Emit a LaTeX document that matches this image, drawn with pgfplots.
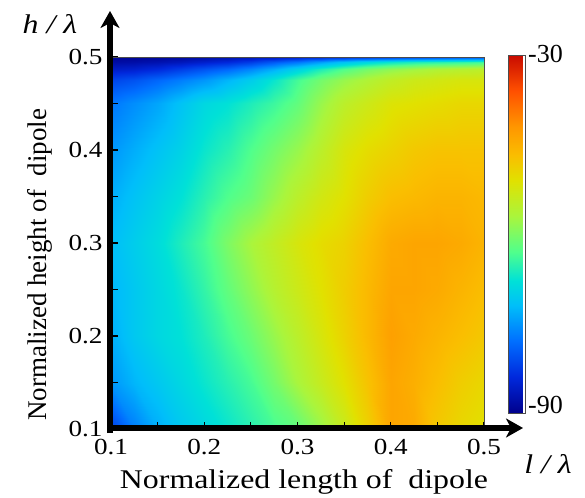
\documentclass[border=0pt]{standalone}
\usepackage{pgfplots}
\pgfplotsset{compat=1.18}
\usepackage{graphicx}
\usepackage{fontspec}
\setmainfont{Liberation Serif}[ItalicFont={Liberation Serif Italic}]
\newcommand{\sx}[1]{\scalebox{1.18}[1]{#1}}
\usetikzlibrary{arrows.meta}
\begin{document}
\begin{tikzpicture}
\path (-111pt,-66pt) rectangle (474pt,429pt);
\begin{axis}[
  scale only axis, width=373pt, height=372pt,
  xmin=0.1, xmax=0.5, ymin=0.1, ymax=0.5,
  enlargelimits=false, axis on top,
  xtick={0.1,0.2,0.3,0.4,0.5}, xticklabels={\sx{0.1},\sx{0.2},\sx{0.3},\sx{0.4},\sx{0.5}},
  ytick={0.1,0.2,0.3,0.4,0.5}, yticklabels={\sx{0.1},\sx{0.2},\sx{0.3},\sx{0.4},\sx{0.5}},
  minor xtick={0.15,0.25,0.35,0.45}, minor ytick={0.15,0.25,0.35,0.45},
  xtick pos=left, ytick pos=left,
  tick align=inside,
  major tick length=7pt, minor tick length=7pt,
  tick style={black, line width=1.2pt},
  axis line style={draw=black!70, line width=0.8pt},
  ticklabel style={font=\fontsize{23}{23}\selectfont},
  xticklabel style={yshift=-7pt},
  yticklabel style={xshift=-5pt},
  colormap={ref}{rgb255(0pt)=(0,0,140); rgb255(10pt)=(0,40,220); rgb255(20pt)=(0,110,255); rgb255(30pt)=(0,190,250); rgb255(37pt)=(0,225,215); rgb255(45pt)=(80,255,140); rgb255(55pt)=(170,245,60); rgb255(65pt)=(225,225,0); rgb255(72pt)=(250,190,0); rgb255(80pt)=(255,150,0); rgb255(90pt)=(255,80,0); rgb255(100pt)=(200,10,0)},
  colorbar, point meta min=-90, point meta max=-30,
  colorbar style={scale only axis, width=17pt, height=358pt,
    at={(parent axis.south east)}, anchor=south west, xshift=15.5pt, yshift=16pt,
    ytick=\empty, major tick length=0pt,
    axis line style={draw=black!70, line width=0.8pt}},
]
\addplot[surf, shader=interp, mesh/cols=17, point meta=explicit] coordinates {
(0.1,0.1)[-82.2] (0.125,0.1)[-76.8] (0.15,0.1)[-73.2] (0.175,0.1)[-70.8] (0.2,0.1)[-69.0] (0.225,0.1)[-67.2] (0.25,0.1)[-65.4] (0.275,0.1)[-63.6] (0.3,0.1)[-61.8] (0.325,0.1)[-58.2] (0.35,0.1)[-54.0] (0.375,0.1)[-49.2] (0.4,0.1)[-43.8] (0.425,0.1)[-44.4] (0.45,0.1)[-48.0] (0.475,0.1)[-49.8] (0.5,0.1)[-51.0]
(0.1,0.15)[-75.0] (0.125,0.15)[-72.6] (0.15,0.15)[-70.8] (0.175,0.15)[-69.0] (0.2,0.15)[-67.2] (0.225,0.15)[-65.4] (0.25,0.15)[-63.6] (0.275,0.15)[-60.6] (0.3,0.15)[-57.0] (0.325,0.15)[-54.0] (0.35,0.15)[-51.0] (0.375,0.15)[-47.4] (0.4,0.15)[-43.8] (0.425,0.15)[-45.0] (0.45,0.15)[-46.8] (0.475,0.15)[-48.6] (0.5,0.15)[-49.8]
(0.1,0.2)[-73.2] (0.125,0.2)[-70.8] (0.15,0.2)[-69.0] (0.175,0.2)[-67.8] (0.2,0.2)[-66.0] (0.225,0.2)[-63.6] (0.25,0.2)[-61.2] (0.275,0.2)[-58.2] (0.3,0.2)[-55.2] (0.325,0.2)[-52.2] (0.35,0.2)[-49.2] (0.375,0.2)[-46.2] (0.4,0.2)[-43.2] (0.425,0.2)[-44.4] (0.45,0.2)[-45.6] (0.475,0.2)[-46.8] (0.5,0.2)[-48.0]
(0.1,0.25)[-72.6] (0.125,0.25)[-70.8] (0.15,0.25)[-69.0] (0.175,0.25)[-67.2] (0.2,0.25)[-64.8] (0.225,0.25)[-61.8] (0.25,0.25)[-58.8] (0.275,0.25)[-55.8] (0.3,0.25)[-53.4] (0.325,0.25)[-51.0] (0.35,0.25)[-48.6] (0.375,0.25)[-46.2] (0.4,0.25)[-43.8] (0.425,0.25)[-43.8] (0.45,0.25)[-44.4] (0.475,0.25)[-45.6] (0.5,0.25)[-46.8]
(0.1,0.3)[-72.0] (0.125,0.3)[-70.2] (0.15,0.3)[-68.4] (0.175,0.3)[-66.0] (0.2,0.3)[-63.6] (0.225,0.3)[-60.0] (0.25,0.3)[-57.0] (0.275,0.3)[-54.6] (0.3,0.3)[-52.2] (0.325,0.3)[-50.4] (0.35,0.3)[-49.2] (0.375,0.3)[-46.8] (0.4,0.3)[-44.4] (0.425,0.3)[-43.8] (0.45,0.3)[-43.8] (0.475,0.3)[-44.4] (0.5,0.3)[-45.6]
(0.1,0.35)[-73.2] (0.125,0.35)[-71.4] (0.15,0.35)[-69.6] (0.175,0.35)[-67.8] (0.2,0.35)[-65.4] (0.225,0.35)[-63.0] (0.25,0.35)[-61.2] (0.275,0.35)[-58.2] (0.3,0.35)[-55.2] (0.325,0.35)[-52.8] (0.35,0.35)[-51.0] (0.375,0.35)[-48.6] (0.4,0.35)[-46.8] (0.425,0.35)[-46.2] (0.45,0.35)[-45.6] (0.475,0.35)[-45.6] (0.5,0.35)[-46.2]
(0.1,0.4)[-75.0] (0.125,0.4)[-73.2] (0.15,0.4)[-71.4] (0.175,0.4)[-69.6] (0.2,0.4)[-67.2] (0.225,0.4)[-65.4] (0.25,0.4)[-63.0] (0.275,0.4)[-60.6] (0.3,0.4)[-58.2] (0.325,0.4)[-55.2] (0.35,0.4)[-52.2] (0.375,0.4)[-50.4] (0.4,0.4)[-49.2] (0.425,0.4)[-48.0] (0.45,0.4)[-47.4] (0.475,0.4)[-47.4] (0.5,0.4)[-47.4]
(0.1,0.45)[-77.4] (0.125,0.45)[-75.6] (0.15,0.45)[-73.8] (0.175,0.45)[-71.4] (0.2,0.45)[-69.0] (0.225,0.45)[-67.8] (0.25,0.45)[-66.0] (0.275,0.45)[-64.2] (0.3,0.45)[-61.8] (0.325,0.45)[-58.2] (0.35,0.45)[-55.2] (0.375,0.45)[-53.4] (0.4,0.45)[-51.6] (0.425,0.45)[-51.0] (0.45,0.45)[-50.4] (0.475,0.45)[-49.8] (0.5,0.45)[-49.8]
(0.1,0.475)[-81.6] (0.125,0.475)[-80.4] (0.15,0.475)[-78.6] (0.175,0.475)[-76.8] (0.2,0.475)[-75.0] (0.225,0.475)[-72.6] (0.25,0.475)[-70.2] (0.275,0.475)[-67.2] (0.3,0.475)[-63.6] (0.325,0.475)[-60.6] (0.35,0.475)[-58.2] (0.375,0.475)[-56.4] (0.4,0.475)[-54.6] (0.425,0.475)[-53.4] (0.45,0.475)[-52.8] (0.475,0.475)[-52.2] (0.5,0.475)[-52.2]
(0.1,0.4875)[-85.8] (0.125,0.4875)[-85.2] (0.15,0.4875)[-84.0] (0.175,0.4875)[-82.2] (0.2,0.4875)[-80.4] (0.225,0.4875)[-78.6] (0.25,0.4875)[-76.2] (0.275,0.4875)[-73.2] (0.3,0.4875)[-69.6] (0.325,0.4875)[-66.0] (0.35,0.4875)[-63.0] (0.375,0.4875)[-60.6] (0.4,0.4875)[-58.8] (0.425,0.4875)[-57.6] (0.45,0.4875)[-56.4] (0.475,0.4875)[-55.8] (0.5,0.4875)[-55.2]
(0.1,0.495)[-88.2] (0.125,0.495)[-87.9] (0.15,0.495)[-87.3] (0.175,0.495)[-86.4] (0.2,0.495)[-85.2] (0.225,0.495)[-84.0] (0.25,0.495)[-82.2] (0.275,0.495)[-79.8] (0.3,0.495)[-77.4] (0.325,0.495)[-74.4] (0.35,0.495)[-71.4] (0.375,0.495)[-69.0] (0.4,0.495)[-67.2] (0.425,0.495)[-66.0] (0.45,0.495)[-65.4] (0.475,0.495)[-64.8] (0.5,0.495)[-64.2]
(0.1,0.5)[-89.4] (0.125,0.5)[-89.4] (0.15,0.5)[-89.1] (0.175,0.5)[-88.8] (0.2,0.5)[-88.2] (0.225,0.5)[-87.6] (0.25,0.5)[-87.0] (0.275,0.5)[-86.4] (0.3,0.5)[-85.2] (0.325,0.5)[-84.6] (0.35,0.5)[-84.0] (0.375,0.5)[-83.4] (0.4,0.5)[-82.8] (0.425,0.5)[-82.2] (0.45,0.5)[-81.6] (0.475,0.5)[-81.0] (0.5,0.5)[-81.0]
};
\end{axis}
\draw[line width=6pt, -{Stealth[length=17pt,width=19pt,inset=5pt]}] (-1pt,-4pt) -- (-1pt,418pt);
\draw[line width=6pt, -{Stealth[length=17pt,width=19pt,inset=5pt]}] (-4pt,1pt) -- (412pt,1pt);
\node[anchor=base, font=\fontsize{27}{27}\selectfont] at (193pt,-59pt) {\sx{Normalized length of\ \ dipole}};
\node[anchor=base, rotate=90, font=\fontsize{27}{27}\selectfont] at (-64pt,164pt) {Normalized height of\ \ dipole};
\node[anchor=base, font=\fontsize{27}{27}\selectfont\itshape] at (-61pt,395pt) {\sx{h / λ}};
\node[anchor=base, font=\fontsize{27}{27}\selectfont\itshape] at (437pt,-44pt) {\sx{l / λ}};
\node[anchor=west, inner sep=0pt, font=\fontsize{26}{26}\selectfont] at (417pt,375pt) {-30};
\node[anchor=west, inner sep=0pt, font=\fontsize{26}{26}\selectfont] at (417pt,24pt) {-90};
\end{tikzpicture}
\end{document}
